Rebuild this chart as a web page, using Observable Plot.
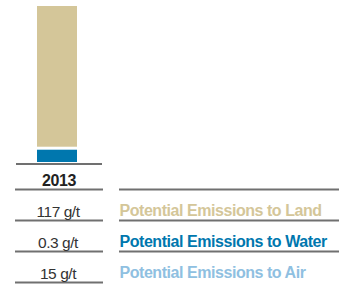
<!DOCTYPE html>
<html>
<head>
<meta charset="utf-8">
<script src="https://cdn.jsdelivr.net/npm/d3@7"></script>
<script src="https://cdn.jsdelivr.net/npm/@observablehq/plot@0.6"></script>
<style>
  html, body { margin: 0; padding: 0; background: #fff; }
  #chart { width: 339px; }
  #chart svg { display: block; }
</style>
</head>
<body>
<div id="chart"></div>
<script>
// ---- data ----
const year = "2013";
const categories = ["Land", "Water", "Air"];
const categoryLabels = ["Potential Emissions to Land", "Potential Emissions to Water", "Potential Emissions to Air"];
const values = [117, 0.3, 15];
const valueUnit = "g/t";
const categoryColors = ["#d4c699", "#0077ae", "#8fc0e1"];
// bar segments as drawn in the picture (bottom to top)
const barSegmentKeys = ["Water", "Land"];
const barSegmentHeights = [10, 117];

// ---- layout ----
const W = 339;
const font = "'Liberation Sans', Arial, sans-serif";
const lineColor = "#707070";
const colorOf = k => categoryColors[categories.indexOf(k)];

const tops = d3.cumsum(barSegmentHeights);
const barData = barSegmentKeys.map((k, i) => ({
  year, key: k, y1: tops[i] - barSegmentHeights[i], y2: tops[i]
}));

const barPlot = Plot.plot({
  width: W, height: 165,
  margin: 0,
  x: {type: "linear", domain: [0, W], range: [0, W], axis: null},
  y: {domain: [0, d3.sum(barSegmentHeights)], range: [162, 6], axis: null},
  marks: [
    Plot.rectY(barData.filter(d => d.key !== "Land"), {x1: 37, x2: 77, y1: "y1", y2: "y2", fill: d => colorOf(d.key)}),
    Plot.rectY(barData.filter(d => d.key === "Land"), {x1: 37, x2: 77, y1: "y1", y2: "y2", fill: d => colorOf(d.key), insetBottom: 3}),
    Plot.ruleY([0], {x1: 16, x2: 102, stroke: lineColor, strokeWidth: 2, dy: 1.5})
  ]
});

const tableRows = [year, ...categories];
const rows = categories.map((c, i) => ({
  key: c, label: categoryLabels[i], text: `${values[i]} ${valueUnit}`, color: categoryColors[i]
}));

const tablePlot = Plot.plot({
  width: W, height: 121,
  margin: 0,
  x: {type: "linear", domain: [0, W], range: [0, W], axis: null},
  y: {type: "point", domain: tableRows, range: [23, 118], padding: 0, axis: null},
  style: {fontFamily: font, letterSpacing: "-0.45px"},
  marks: [
    Plot.ruleY(tableRows, {y: d => d, x1: 15, x2: 103, stroke: lineColor, strokeWidth: 2}),
    Plot.ruleY(tableRows.slice(0, 3), {y: d => d, x1: 119, x2: W, stroke: lineColor, strokeWidth: 2}),
    Plot.text([year], {x: 58.5, y: d => d, text: d => d, dy: -9, fontSize: 16, fontWeight: "bold", fill: "#222"}),
    Plot.text(rows, {x: 57.5, y: "key", text: "text", dy: -8.5, fontSize: 15.5, fill: "#333"}),
    Plot.text(rows, {x: 119, y: "key", text: "label", textAnchor: "start", dy: -10, fontSize: 16, fontWeight: "bold", fill: "color"})
  ]
});

document.getElementById("chart").append(barPlot, tablePlot);
</script>
</body>
</html>
